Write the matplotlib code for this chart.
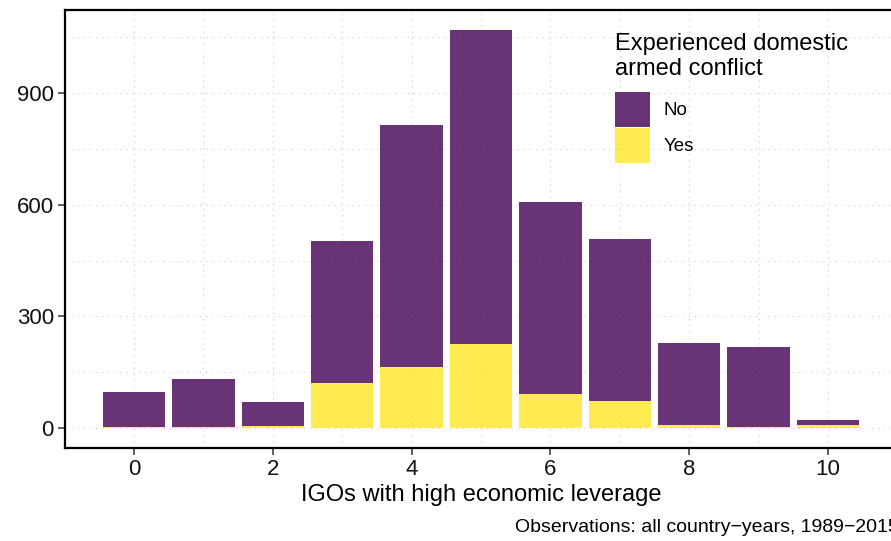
import numpy as np
import matplotlib
matplotlib.use('Agg')
import matplotlib.pyplot as plt
from matplotlib.patches import Patch

plt.rcParams['font.family'] = ['Liberation Sans', 'DejaVu Sans']

# counts of country-years by number of high-leverage IGOs
igos = np.arange(0, 11)
yes_counts = [3, 3, 5, 120, 163, 227, 91, 74, 7, 3, 7]
total_counts = [96, 133, 69, 502, 814, 1069, 607, 508, 230, 218, 21]
no_counts = [t - y for t, y in zip(total_counts, yes_counts)]

col_no = '#440154'
col_yes = '#FDE725'

W, H = 891, 541
fig = plt.figure(figsize=(W / 100, H / 100), dpi=100)
# panel runs slightly past the right edge, like the cropped original
ax = fig.add_axes([65 / W, (H - 448) / H, (897 - 65) / W, (448 - 10) / H])

ax.bar(igos, yes_counts, width=0.9, color=col_yes, alpha=0.8, linewidth=0, zorder=2)
ax.bar(igos, no_counts, bottom=yes_counts, width=0.9, color=col_no, alpha=0.8,
       linewidth=0, zorder=2)

ax.set_xlim(-0.995, 10.995)
ax.set_ylim(-53.5, 1123.5)
ax.set_xticks([0, 2, 4, 6, 8, 10])
ax.set_yticks([0, 300, 600, 900])
ax.set_xticks([1, 3, 5, 7, 9], minor=True)
ax.set_yticks([150, 450, 750, 1050], minor=True)

ax.grid(which='both', color='#cccccc', linestyle=(0, (1, 4.5)), linewidth=0.8, zorder=0)
ax.set_axisbelow(True)
ax.tick_params(which='minor', length=0)
ax.tick_params(which='major', length=5, width=1.1, color='#333333',
               labelsize=16, labelcolor='#111111', pad=3)
for s in ax.spines.values():
    s.set_linewidth(1.6)
    s.set_color('black')

ax.set_xlabel('IGOs with high economic leverage', fontsize=17, labelpad=3)

fig.text(899 / W, (H - 527) / H, 'Observations: all country\u2212years, 1989\u22122015',
         ha='right', va='center', fontsize=14)

handles = [Patch(facecolor=col_no, alpha=0.8, linewidth=0),
           Patch(facecolor=col_yes, alpha=0.8, linewidth=0)]
leg = ax.legend(handles, ['No', 'Yes'], title='Experienced domestic\narmed conflict',
                loc='upper left', bbox_to_anchor=(615 / W, (H - 33) / H),
                bbox_transform=fig.transFigure, frameon=False, fontsize=13.5,
                title_fontsize=17, handlelength=1.85, handleheight=2.5,
                labelspacing=0.05, handletextpad=0.75, borderaxespad=0, borderpad=0)
leg._legend_box.align = 'left'
leg._legend_box.sep = 8

fig.savefig('out.png', dpi=100)
